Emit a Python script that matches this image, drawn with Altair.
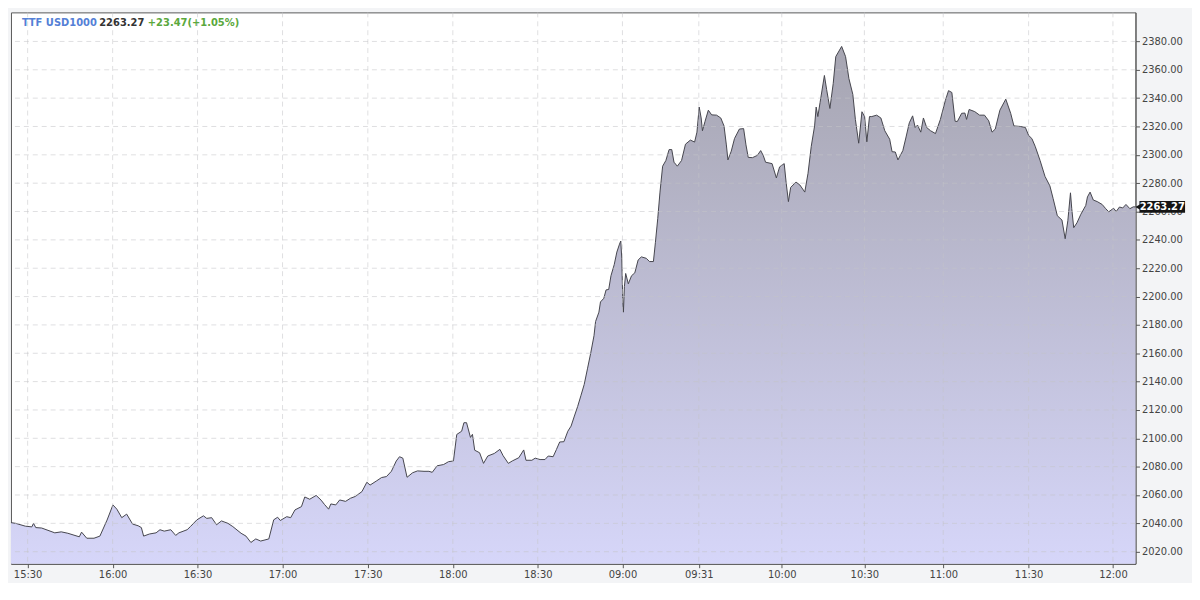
import altair as alt
import pandas as pd

symbol = "TTF USD1000"
last_price = 2263.27
change = 23.47
change_pct = 1.05

slot = [
    2, 6.7, 16.7, 23.3, 25, 27.3, 33.3, 46.7, 53.3, 60, 71.7, 74, 79.3, 86.7, 92.7,
    100, 106, 110, 115, 120, 126, 131.7, 135, 137.3, 143.3, 150, 154, 158.3, 165, 170,
    173.3, 181.7, 185, 191.7, 198.3, 201.7, 206.7, 211.7, 216.7, 223.3, 228.3, 236.7,
    241.7, 246.7, 251.7, 256.7, 265, 270, 274, 276.7, 283.3, 287.3, 291.7, 298.3, 301.7,
    306.7, 313.3, 318.3, 321.7, 326, 328.3, 333.3, 337.3, 343.3, 348.3, 353.3, 360, 365,
    368.3, 375, 380, 385, 390, 395, 398.3, 401.7, 406, 411.7, 416.7, 423.3, 428.3, 431.7,
    436.7, 443.3, 448.3, 453.3, 456.7, 461.7, 464, 466.7, 470.7, 472.7, 475, 480, 484,
    488.3, 495, 500.7, 504, 509.3, 513.3, 520, 525, 527.3, 533.3, 536.7, 541.7, 546.7,
    550, 555, 558.3, 561.7, 566, 570, 573.3, 576.7, 580, 583.3, 586.7, 590, 593.3, 596.7,
    598.3, 601.7, 603.3, 606.7, 609, 611.7, 614, 617.3, 620, 622.7, 624, 625, 626, 626.7,
    627.7, 629, 631.7, 635, 638.3, 641.7, 645, 650, 653.3, 657.3, 659.3, 661.7, 664,
    666.7, 670, 673.3, 676, 678.3, 681.7, 686, 690, 695, 699.3, 701.7, 704, 706, 707.3,
    710, 713.3, 716.7, 721.7, 726, 729.3, 731.7, 733.3, 736.7, 740, 745, 749.3, 751.7,
    754, 758.3, 763.3, 766.7, 769.3, 771.7, 778.3, 782.7, 786, 790.7, 792.7, 795, 797.3,
    802.7, 806.7, 811.7, 815, 818.3, 821.7, 823.3, 825, 827.3, 831.7, 834, 837.3, 840.7,
    843.3, 849.3, 853.3, 856.7, 860.7, 863.3, 866.7, 870, 872.7, 875, 877.7, 880, 885,
    889.3, 893.3, 898.3, 900.7, 904, 906.7, 911.7, 915, 918.3, 921.7, 924.3, 926.7, 930,
    932.7, 936, 940, 945, 950, 955, 958.3, 961.7, 965, 967.3, 971.7, 975, 976.7, 979.3,
    985, 990, 995, 999.3, 1002.7, 1006, 1010.7, 1016.7, 1021.7, 1025, 1031.7, 1036.7,
    1040, 1043.3, 1046.7, 1051.7, 1056.7, 1061.7, 1065, 1069.3, 1074, 1077.3, 1080,
    1082.7, 1084, 1086, 1089.3, 1093.3, 1098.3, 1100, 1102.7, 1106, 1110, 1115, 1118.3,
    1121.7, 1126.7, 1129.3, 1132.7, 1136, 1139.3, 1143.3, 1146.7, 1149,
]

price = [
    2040.5, 2040, 2038, 2037.5, 2040, 2037, 2036.7, 2033.3, 2034, 2033, 2030.5, 2033.8, 2029.5, 2029.5, 2031,
    2042.3, 2053, 2050, 2044, 2046.5, 2039.5, 2038.3, 2037, 2031, 2032.5, 2033.3, 2035.5, 2034.5, 2035.5, 2031.5,
    2033.3, 2035.5, 2037.7, 2042.5, 2045.3, 2043.5, 2044, 2039, 2041.7, 2040, 2037.7, 2033,
    2031, 2026.5, 2029, 2027.5, 2029, 2042.5, 2044.3, 2042, 2044.7, 2044, 2049.5, 2051.8, 2058.6,
    2057, 2059.7, 2056.4, 2053.4, 2050, 2053.7, 2053, 2056.5, 2055.5, 2057.7, 2059, 2062.4, 2069,
    2067, 2070, 2072.3, 2073, 2076.7, 2084, 2087, 2086, 2072.5, 2075.7, 2077, 2076.7, 2076.7, 2076,
    2080.6, 2081.5, 2083.5, 2084, 2102.7, 2105, 2111, 2111, 2100.6, 2102.8, 2091.6, 2089.8, 2082.3,
    2087.5, 2089.3, 2092.2, 2087.7, 2082.3, 2084, 2086.3, 2091.8, 2084.5, 2084.5, 2086, 2085, 2085,
    2087.5, 2087, 2092, 2097.4, 2097.6, 2105, 2108.6, 2115.7, 2122.4, 2130, 2138, 2149, 2160, 2172.4,
    2182.4, 2189, 2196.2, 2198.8, 2204.7, 2205, 2214.7, 2222.5, 2231.4, 2237, 2239.2, 2227, 2198, 2189,
    2207, 2216.3, 2209, 2214.7, 2216.7, 2225.8, 2228, 2227, 2224.7, 2224.7, 2238, 2255, 2273.7,
    2292, 2296, 2303.7, 2303.7, 2294.8, 2292, 2296, 2307.5, 2310.4, 2309, 2316, 2333.7, 2326, 2317,
    2323.7, 2331.5, 2328.2, 2328, 2326, 2320.4, 2307, 2296.4, 2302.6, 2311.5, 2318.2, 2318.5, 2307,
    2298.2, 2298, 2299.6, 2303, 2299.6, 2294.8, 2293.8, 2283.7, 2291.5, 2293.8, 2280.3, 2267, 2277,
    2280.8, 2278.7, 2273.7, 2287, 2306, 2320.4, 2333.7, 2327, 2337, 2356, 2346, 2332.7, 2350.4,
    2369.3, 2376.5, 2369.3, 2353.8, 2342.6, 2325, 2308.2, 2330.4, 2327, 2309.2, 2327, 2327, 2328,
    2326, 2317, 2311, 2302.2, 2302, 2296.4, 2303, 2312.6, 2322.6, 2327.5, 2319.3, 2321, 2316,
    2326, 2319.3, 2317, 2315, 2325, 2338.2, 2345.3, 2344, 2323.7, 2323.5, 2329.3, 2329.5, 2325, 2332,
    2330.5, 2328, 2328, 2324, 2316, 2318.2, 2331.5, 2339.3, 2329.3, 2320.4, 2320, 2319.3,
    2313.7, 2311.5, 2306, 2296, 2284.8, 2278.1, 2269.2, 2257, 2254, 2240.8, 2253.5,
    2273.2, 2262, 2248.6, 2252, 2258.1, 2264.3, 2270.3, 2273.7, 2268.1, 2267, 2265, 2262.3,
    2259.8, 2262.3, 2260, 2263.2, 2262.5, 2265, 2262, 2263.3, 2263.27,
]

tick_slot = [19, 105.7, 192.3, 279, 366, 452.7, 539.3, 625.7, 703.6, 788.2, 872.5, 952.9, 1040, 1126]
tick_label = ["15:30", "16:00", "16:30", "17:00", "17:30", "18:00", "18:30",
              "09:00", "09:31", "10:00", "10:30", "11:00", "11:30", "12:00"]
y_ticks = list(range(2020, 2381, 20))
y_min, y_max = 2011.5, 2400.5

W, H = 1134, 556

df = pd.DataFrame({"slot": slot, "price": price})
xscale = alt.Scale(domain=[2, 1149], nice=False, zero=False)
yscale = alt.Scale(domain=[y_min, y_max], nice=False, zero=False)

label_expr = ("[" + ",".join(f"'{l}'" for l in tick_label) + "][indexof(["
              + ",".join(str(t) for t in tick_slot) + "], datum.value)]")

xaxis = alt.Axis(values=tick_slot, labelExpr=label_expr, grid=False, title=None,
                 labelOverlap=False, labelFlush=False)
yaxis = alt.Axis(orient="right", values=y_ticks, format=".2f", grid=False, title=None,
                 labelOverlap=False, labelFlush=False)

grad = alt.Gradient(
    gradient="linear",
    stops=[alt.GradientStop(color="#a6a5b1", offset=0),
           alt.GradientStop(color="#d6d6f9", offset=1)],
    x1=0, x2=0, y1=0, y2=1,
)

area = alt.Chart(df).mark_area(interpolate="linear", fill=grad, fillOpacity=1).encode(
    x=alt.X("slot:Q", scale=xscale, axis=xaxis),
    y=alt.Y("price:Q", scale=yscale, axis=yaxis),
    y2=alt.datum(y_min),
)
line = alt.Chart(df).mark_line(interpolate="linear", color="#45454d", strokeWidth=1).encode(
    x=alt.X("slot:Q", scale=xscale, axis=xaxis),
    y=alt.Y("price:Q", scale=yscale, axis=yaxis),
)

ygrid = alt.Chart(pd.DataFrame({"v": y_ticks})).mark_rule(
    color="#c4c4c8", opacity=0.55, strokeDash=[5, 4], strokeWidth=1
).encode(y=alt.Y("v:Q", scale=yscale, axis=yaxis))

xgrid = alt.Chart(pd.DataFrame({"v": tick_slot})).mark_rule(
    color="#c4c4c8", opacity=0.55, strokeDash=[5, 4], strokeWidth=1
).encode(x=alt.X("v:Q", scale=xscale, axis=xaxis))

tag_df = pd.DataFrame({"price": [last_price], "label": [f"{last_price:.2f}"]})
tag_rule = alt.Chart(tag_df).mark_rule(color="#151515", strokeWidth=12, strokeCap="butt").encode(
    y=alt.Y("price:Q", scale=yscale, axis=yaxis), x=alt.value(W + 4), x2=alt.value(W + 50)
)
tag_arrow = alt.Chart(tag_df).mark_point(shape="triangle-left", filled=True, color="#151515",
                                         size=50, opacity=1).encode(
    y=alt.Y("price:Q", scale=yscale, axis=yaxis), x=alt.value(W + 3)
)
tag_text = alt.Chart(tag_df).mark_text(color="white", font="DejaVu Sans", fontSize=10,
                                       fontWeight="bold", align="center", baseline="middle").encode(
    y=alt.Y("price:Q", scale=yscale, axis=yaxis), x=alt.value(W + 27), text="label:N"
)

hdr_style = dict(font="DejaVu Sans", fontSize=10, fontWeight="bold", align="left", baseline="middle")
h1 = alt.Chart(tag_df).mark_text(color="#5480d6", **hdr_style).encode(
    x=alt.value(11), y=alt.value(11), text=alt.value(symbol))
h2 = alt.Chart(tag_df).mark_text(color="#333333", **hdr_style).encode(
    x=alt.value(89), y=alt.value(11), text=alt.value(f"{last_price:.2f}"))
h3 = alt.Chart(tag_df).mark_text(color="#5aa83c", **hdr_style).encode(
    x=alt.value(138), y=alt.value(11), text=alt.value(f"+{change:.2f}(+{change_pct:.2f}%)"))

chart = alt.layer(area, line, ygrid, xgrid, tag_rule, tag_arrow, tag_text, h1, h2, h3).properties(
    width=W, height=H,
    background="#f3f4f6",
    padding={"left": 1, "top": 1, "right": 1, "bottom": 1},
).configure_view(
    fill="white", stroke="#5a5a5a", strokeWidth=1
).configure_axis(
    labelFont="DejaVu Sans", labelFontSize=10, labelColor="#444444",
    tickColor="#555555", domainColor="#555555", tickSize=4, labelPadding=2,
)

chart.save("out.html", embed_options={"renderer": "svg", "actions": False})
